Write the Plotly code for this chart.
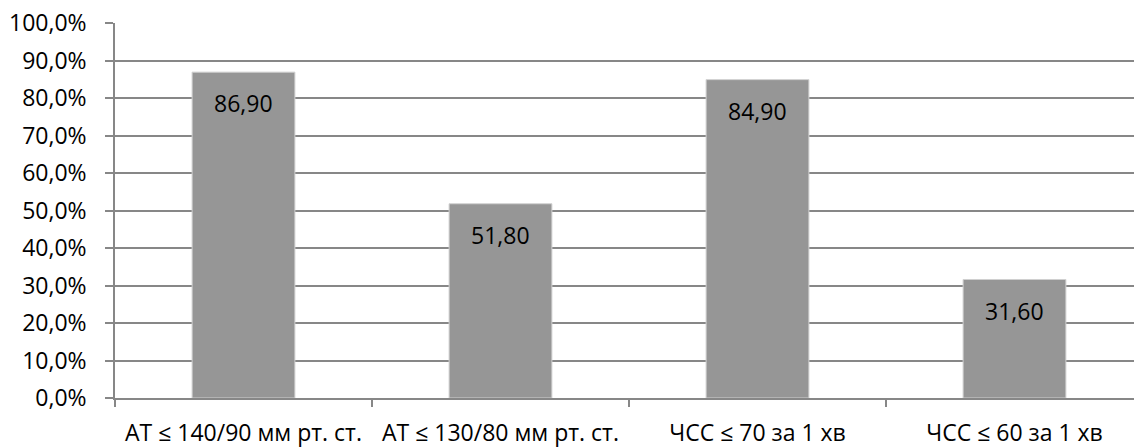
import plotly.graph_objects as go

# Share of patients reaching each target (percent)
categories = [
    "АТ ≤ 140/90 мм рт. ст.",
    "АТ ≤ 130/80 мм рт. ст.",
    "ЧСС ≤ 70 за 1 хв",
    "ЧСС ≤ 60 за 1 хв",
]
values = [86.90, 51.80, 84.90, 31.60]
y_ticks = [0, 10, 20, 30, 40, 50, 60, 70, 80, 90, 100]
y_tick_labels = [f"{v:.1f}".replace(".", ",") + "%" for v in y_ticks]

FONT = "Open Sans"
GRID = "#878787"

fig = go.Figure(
    go.Bar(
        x=categories,
        y=values,
        width=0.4,
        marker=dict(color="#969696", line=dict(color="#d0d0d0", width=1)),
        hoverinfo="skip",
    )
)

# Value labels just below the top of each bar
for cat, val in zip(categories, values):
    fig.add_annotation(
        x=cat, y=val, yshift=-31,
        text=f"{val:.2f}".replace(".", ","),
        showarrow=False,
        font=dict(family=FONT, size=23, color="#000000"),
    )

fig.update_layout(
    width=1134, height=448,
    margin=dict(l=115, r=0, t=23, b=46),
    paper_bgcolor="white", plot_bgcolor="white",
    showlegend=False,
    font=dict(family=FONT, size=23, color="#000000"),
    bargap=0.6,
)
fig.update_xaxes(
    type="category",
    range=[-0.5, 3.465],
    showline=True, linecolor=GRID, linewidth=1.6,
    ticks="outside", tickson="boundaries", ticklen=7, tickcolor=GRID, tickwidth=1.5,
    showgrid=False,
    ticklabelstandoff=14,
    tickfont=dict(size=23),
)
fig.update_yaxes(
    range=[0, 100],
    tickvals=y_ticks,
    ticktext=y_tick_labels,
    showgrid=True, gridcolor=GRID, gridwidth=1.6,
    zeroline=False,
    showline=True, linecolor=GRID, linewidth=1.6,
    ticks="outside", ticklen=8, tickcolor=GRID, tickwidth=1.5,
    ticklabelstandoff=14,
)

fig.write_html("out.html")
